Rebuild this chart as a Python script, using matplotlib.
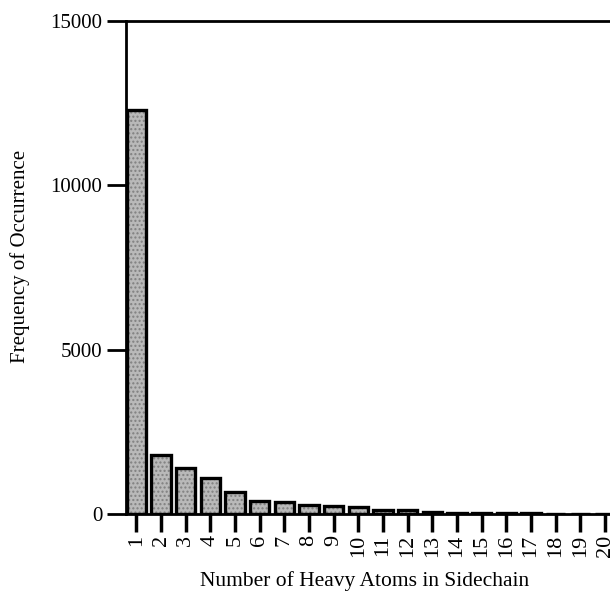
import matplotlib
matplotlib.use("Agg")
import matplotlib.pyplot as plt

atoms = list(range(1, 21))
tick_labels = [str(a) for a in atoms]
frequency = [12300, 1800, 1390, 1090, 680, 400, 375, 265, 235, 200,
             130, 120, 50, 30, 25, 30, 20, 15, 10, 10]
y_ticks = [0, 5000, 10000, 15000]

plt.rcParams['font.family'] = ['Liberation Serif', 'DejaVu Serif']

fig = plt.figure(figsize=(6.10, 5.94), dpi=100)
ax = fig.add_axes([126/610, 1-514/594, 1-126/610, (514-21)/594])

ax.bar(atoms, frequency, width=0.78, color='#b9b9b9', edgecolor='black',
       linewidth=2.4, hatch='....', zorder=2)
for b in ax.patches:
    b._hatch_color = (0.5, 0.5, 0.5, 1)

ax.set_xlim(0.58, 20.2)
ax.set_ylim(0, 15000)
ax.set_xticks(atoms)
ax.set_xticklabels(tick_labels, rotation=90, fontsize=16)
ax.set_yticks(y_ticks)
ax.set_yticklabels([str(v) for v in y_ticks], fontsize=15)

ax.spines['right'].set_visible(False)
for s in ['left', 'top', 'bottom']:
    ax.spines[s].set_linewidth(2)
ax.tick_params(axis='x', direction='out', length=13, width=2.5, pad=2)
ax.tick_params(axis='y', direction='out', length=14, width=2, pad=3)

ax.set_xlabel('Number of Heavy Atoms in Sidechain', fontsize=15.5)
ax.set_ylabel('Frequency of Occurrence', fontsize=15)
ax.xaxis.set_label_coords(365/610, 1-571/594, transform=fig.transFigure)
ax.yaxis.set_label_coords(30/610, 1-256/594, transform=fig.transFigure)

fig.savefig('out.png', dpi=100)
